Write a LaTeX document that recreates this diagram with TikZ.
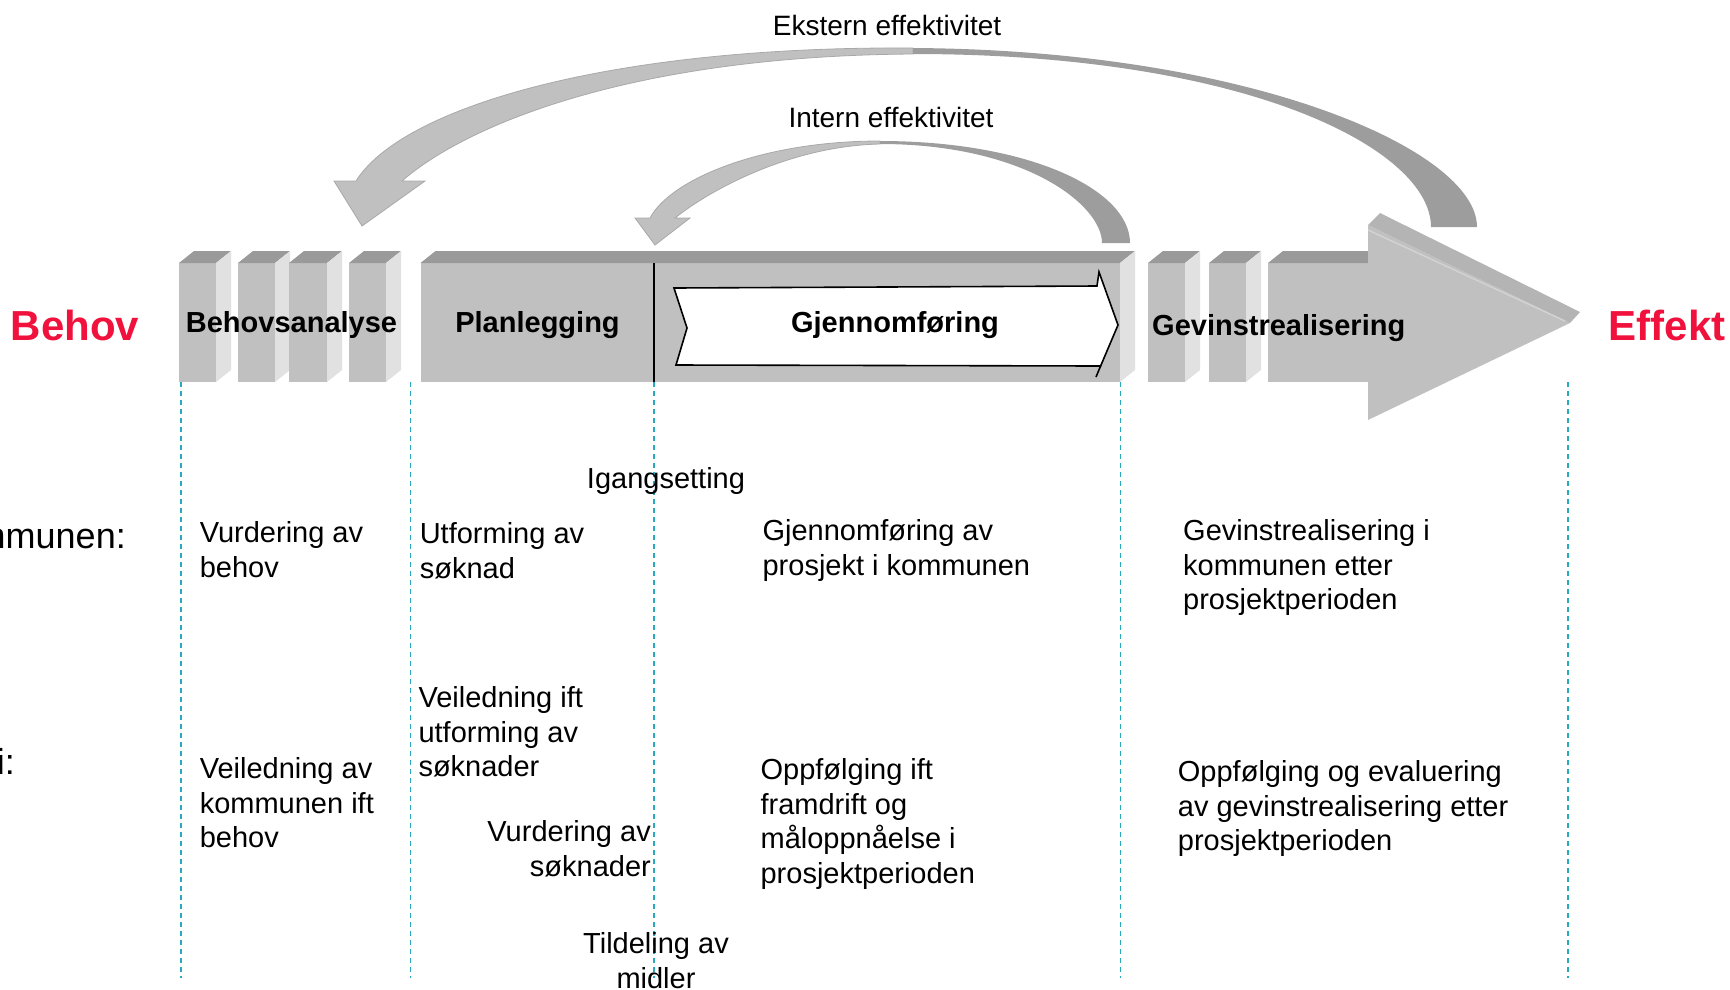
\documentclass[tikz,border=0pt]{standalone}
\usepackage{fontspec}
\setmainfont{Liberation Sans}
\definecolor{barfront}{HTML}{C0C0C0}
\definecolor{bartop}{HTML}{9A9A9A}
\definecolor{barside}{HTML}{E1E1E1}
\definecolor{headtop}{HTML}{B4B4B4}
\definecolor{headline}{HTML}{D2D2D2}
\definecolor{bandlight}{HTML}{C0C0C0}
\definecolor{bandedge}{HTML}{A9A9A9}
\definecolor{banddark}{HTML}{9D9D9D}
\definecolor{endred}{RGB}{240,18,60}
\definecolor{guidecyan}{RGB}{40,170,190}
\tikzset{
  frontface/.style={fill=barfront},
  topface/.style={fill=bartop},
  sideface/.style={fill=barside},
  lightband/.style={fill=bandlight, draw=bandedge, line width=0.8pt},
  darkband/.style={fill=banddark},
  guide/.style={draw=guidecyan, line width=1.3pt, dash pattern=on 5pt off 4pt},
  phase/.style={font=\bfseries\fontsize{29}{34}\selectfont, inner sep=0pt},
  ends/.style={font=\bfseries\fontsize{42}{48}\selectfont, text=endred, inner sep=0pt},
  role/.style={font=\fontsize{36}{42}\selectfont, inner sep=0pt},
  body/.style={font=\fontsize{29}{34.8}\selectfont, inner sep=0pt, align=left},
  looplabel/.style={font=\fontsize{28}{33}\selectfont, inner sep=0pt}
}

\begin{document}
\begin{tikzpicture}[x=1pt, y=-1pt]
        \useasboundingbox (0,0) rectangle (1730,989);
        \clip (0,0) rectangle (1730,989);

        % feedback arrows
        \fill[lightband] (913,48) .. controls (600,46) and (400,110) .. (356,181) -- (334,181) -- (362,226)
              -- (425,181) -- (402,181) .. controls (460,130) and (620,56) .. (913,54) -- cycle;
        \fill[darkband] (913,48) .. controls (1250,50) and (1477,150) .. (1477,227) -- (1431,227)
              .. controls (1431,150) and (1250,54) .. (913,54) -- cycle;
        \fill[lightband] (880,141) .. controls (760,141) and (670,180) .. (650,218) -- (635,218) -- (655,245)
              -- (690,218) -- (675,218) .. controls (710,190) and (790,146) .. (880,144) -- cycle;
        \fill[darkband] (880,141) .. controls (1030,141) and (1130,190) .. (1130,243) -- (1102,243)
              .. controls (1102,205) and (1025,144) .. (880,144) -- cycle;
        \node[looplabel, anchor=base] (ekstern) at (887,35) {Ekstern effektivitet};
        \node[looplabel, anchor=base] (intern) at (891,127) {Intern effektivitet};

        % behovsanalyse slabs
        \fill[frontface] (179,263) rectangle (216,382);
        \fill[topface] (179,263) -- (194,251) -- (231,251) -- (216,263) -- cycle;
        \fill[sideface] (216,263) -- (231,251) -- (231,370) -- (216,382) -- cycle;
        \fill[frontface] (238,263) rectangle (275,382);
        \fill[topface] (238,263) -- (253,251) -- (290,251) -- (275,263) -- cycle;
        \fill[sideface] (275,263) -- (290,251) -- (290,370) -- (275,382) -- cycle;
        \fill[frontface] (289,263) rectangle (327,382);
        \fill[topface] (289,263) -- (304,251) -- (342,251) -- (327,263) -- cycle;
        \fill[sideface] (327,263) -- (342,251) -- (342,370) -- (327,382) -- cycle;
        \fill[frontface] (349,263) rectangle (386,382);
        \fill[topface] (349,263) -- (364,251) -- (401,251) -- (386,263) -- cycle;
        \fill[sideface] (386,263) -- (401,251) -- (401,370) -- (386,382) -- cycle;

        % planlegging + gjennomforing bar
        \fill[frontface] (420.5,263) rectangle (1120,382);
        \fill[topface] (420.5,263) -- (435.5,251) -- (1135,251) -- (1120,263) -- cycle;
        \fill[sideface] (1120,263) -- (1135,251) -- (1135,370) -- (1120,382) -- cycle;
        \draw[line width=1.2pt] (654,263) -- (654,382);
        \filldraw[fill=white, line width=1.6pt, line join=miter] (674,288) -- (1097,286) -- (1099,272) -- (1118,325)
              -- (1100.6,366) -- (676,365) -- (687,328) -- cycle;
        \draw[line width=1.6pt] (1100.6,366) -- (1096,377);

        % gevinstrealisering slabs and arrow
        \fill[frontface] (1148,263) rectangle (1185,382);
        \fill[topface] (1148,263) -- (1163,251) -- (1200,251) -- (1185,263) -- cycle;
        \fill[sideface] (1185,263) -- (1200,251) -- (1200,370) -- (1185,382) -- cycle;
        \fill[frontface] (1209,263) rectangle (1246,382);
        \fill[topface] (1209,263) -- (1224,251) -- (1261,251) -- (1246,263) -- cycle;
        \fill[sideface] (1246,263) -- (1261,251) -- (1261,370) -- (1246,382) -- cycle;
        \fill[frontface] (1268,263) rectangle (1368.5,382);
        \fill[topface] (1268,263) -- (1283,251) -- (1368.5,251) -- (1368.5,263) -- cycle;
        \fill[frontface] (1368,225) -- (1570,323) -- (1368,420) -- cycle;
        \fill[headtop] (1368,225) -- (1380,213) -- (1580,312) -- (1570,323) -- cycle;
        \draw[headline, line width=1.5pt] (1368,230) -- (1565,321);

        % guide lines
        \coordinate (g1) at (181,382);
        \coordinate (g2) at (410.5,382);
        \coordinate (g3) at (654,382);
        \coordinate (g4) at (1120.5,382);
        \coordinate (g5) at (1568,382);
        \draw[guide] (g1) -- ++(0,596);
        \draw[guide] (g2) -- ++(0,596);
        \draw[guide] (g3) -- ++(0,596);
        \draw[guide] (g4) -- ++(0,596);
        \draw[guide] (g5) -- ++(0,596);

        % phase names
        \node[ends, anchor=base] (behov) at (75,340) {Behov};
        \node[ends, anchor=base] (effekt) at (1667,340) {Effekt};
        \node[phase, anchor=base] (analyse) at (291.5,332) {Behovsanalyse};
        \node[phase, anchor=base] (plan) at (537.5,332) {Planlegging};
        \node[phase, anchor=base] (gjennom) at (895,332) {Gjennomføring};
        \node[phase, anchor=base west] (gevinst) at (1152,335) {Gevinstrealisering};

        % rows
        \node[role, anchor=base east] (kommunen) at (126,548) {Kommunen:};
        \node[role, anchor=base east] (difi) at (15,774) {Difi:};
        \node[body, anchor=base] (igang) at (666,488.5) {Igangsetting};
        \node[body, anchor=north west] (k1) at (199.6,521) {Vurdering av\\behov};
        \node[body, anchor=north west] (k2) at (419.6,522) {Utforming av\\søknad};
        \node[body, anchor=north west] (k3) at (762.4,519) {Gjennomføring av\\prosjekt i kommunen};
        \node[body, anchor=north west] (k4) at (1183,519) {Gevinstrealisering i\\kommunen etter\\prosjektperioden};
        \node[body, anchor=north west] (d1) at (199.6,757) {Veiledning av\\kommunen ift\\behov};
        \node[body, anchor=north west] (d2) at (418.3,686) {Veiledning ift\\utforming av\\søknader};
        \node[body, anchor=north east, align=right] (d3) at (651,820) {Vurdering av\\søknader};
        \node[body, anchor=north, align=center] (d4) at (656,932) {Tildeling av\\midler};
        \node[body, anchor=north west] (d5) at (760.4,758) {Oppfølging ift\\framdrift og\\måloppnåelse i\\prosjektperioden};
        \node[body, anchor=north west] (d6) at (1177.7,760) {Oppfølging og evaluering\\av gevinstrealisering etter\\prosjektperioden};
\end{tikzpicture}
\end{document}
